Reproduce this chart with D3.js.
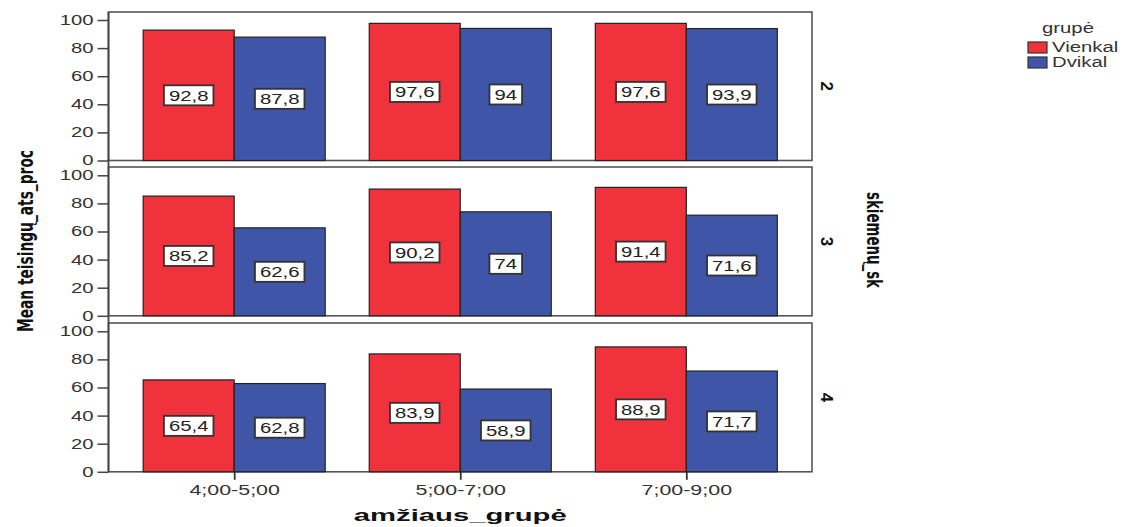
<!DOCTYPE html>
<html><head><meta charset="utf-8">
<script src="https://cdn.jsdelivr.net/npm/d3@7/dist/d3.min.js"></script>
<style>body{margin:0;background:#fff}</style>
</head><body>
<script>
const ageGroups = ["4;00-5;00", "5;00-7;00", "7;00-9;00"];
const groups = ["Vienkal", "Dvikal"];
const panels = ["2", "3", "4"];
const vienkal = [[92.8, 97.6, 97.6], [85.2, 90.2, 91.4], [65.4, 83.9, 88.9]];
const dvikal = [[87.8, 94, 93.9], [62.6, 74, 71.6], [62.8, 58.9, 71.7]];
const yTicks = [0, 20, 40, 60, 80, 100];
const labels = [["92,8","97,6","97,6"],["85,2","90,2","91,4"],["65,4","83,9","88,9"]];
const labelsD = [["87,8","94","93,9"],["62,6","74","71,6"],["62,8","58,9","71,7"]];
const colors = {Vienkal: "#ef323c", Dvikal: "#3f56a8"};

const W = 1129, H = 527;
const K = 1.45; // horizontal stretch of text
const svg = d3.select("body").append("svg").attr("width", W).attr("height", H)
  .style("font-family", "'Liberation Sans', Arial, sans-serif");

function stretch(sel, k) {
  sel.each(function() {
    const len = this.getComputedTextLength();
    d3.select(this).attr("textLength", len * k).attr("lengthAdjust", "spacingAndGlyphs");
  });
}

const left = 108.5, right = 812;
const panelTops = [12, 167, 323];
const zeroYs = [160.5, 315.8, 471.8];
const px100 = 140.5;

const x = d3.scalePoint().domain(ageGroups).range([left, right]).padding(0.556);
const barW = 91;
const xs = d3.scaleBand().domain(groups).range([-barW, barW]).padding(0);

panels.forEach((p, pi) => {
  const y = d3.scaleLinear().domain([0, 100]).range([zeroYs[pi], zeroYs[pi] - px100]);
  const g = svg.append("g");
  g.append("rect").attr("x", left).attr("y", panelTops[pi])
    .attr("width", right - left).attr("height", zeroYs[pi] - panelTops[pi])
    .attr("fill", "#fff").attr("stroke", "#555").attr("stroke-width", 1.6);
  const data = [];
  ageGroups.forEach((a, ai) => {
    data.push({a, grp: "Vienkal", v: vienkal[pi][ai], lab: labels[pi][ai]});
    data.push({a, grp: "Dvikal", v: dvikal[pi][ai], lab: labelsD[pi][ai]});
  });
  g.selectAll("rect.bar").data(data).join("rect").attr("class", "bar")
    .attr("x", d => x(d.a) + xs(d.grp))
    .attr("width", xs.bandwidth())
    .attr("y", d => y(d.v))
    .attr("height", d => y(0) - y(d.v))
    .attr("fill", d => colors[d.grp]).attr("stroke", "#222").attr("stroke-width", 1.2);
  const lg = g.selectAll("g.lab").data(data).join("g").attr("class", "lab")
    .attr("transform", d => `translate(${x(d.a) + xs(d.grp) + xs.bandwidth()/2},${(y(d.v) + y(0))/2})`);
  lg.append("text").attr("text-anchor", "middle").attr("dy", "0.38em")
    .attr("font-size", 14).attr("fill", "#222")
    .text(d => d.lab)
    .call(stretch, K)
    .each(function(d){
      const w = +d3.select(this).attr("textLength");
      d3.select(this.parentNode).insert("rect", "text")
        .attr("x", -w/2 - 5).attr("y", -10).attr("width", w + 10).attr("height", 20)
        .attr("fill", "#fff").attr("stroke", "#333").attr("stroke-width", 1.8);
    });
  const ax = d3.axisLeft(y).tickValues(yTicks).tickSize(11).tickPadding(4);
  const ag = g.append("g").attr("transform", `translate(${left},0)`).call(ax);
  ag.select(".domain").remove();
  ag.selectAll(".tick line").attr("stroke", "#444").attr("stroke-width", 1.5);
  ag.selectAll(".tick text").attr("font-size", 14)
    .attr("fill", "#333").attr("font-family", "'Liberation Sans', Arial, sans-serif")
    .call(stretch, K);
  g.append("text").attr("transform", `translate(${827},${(panelTops[pi] + zeroYs[pi]) / 2}) rotate(90)`)
    .attr("text-anchor", "middle").attr("dy", "0.35em").attr("font-size", 17).attr("font-weight", "bold")
    .attr("fill", "#111").text(p);
});

svg.append("line").attr("x1", left).attr("x2", left).attr("y1", panelTops[0]).attr("y2", zeroYs[2])
  .attr("stroke", "#444").attr("stroke-width", 1.8);

const xa = d3.axisBottom(x).tickSize(8).tickPadding(5);
const xg = svg.append("g").attr("transform", `translate(0,${zeroYs[2]})`).call(xa);
xg.select(".domain").remove();
xg.selectAll(".tick line").attr("stroke", "#333").attr("stroke-width", 1.8);
xg.selectAll(".tick text").attr("font-size", 14).attr("fill", "#333")
  .attr("font-family", "'Liberation Sans', Arial, sans-serif")
  .call(stretch, 1.53);

svg.append("text").attr("x", x(ageGroups[1])).attr("y", 521).attr("text-anchor", "middle")
  .attr("font-size", 17).attr("font-weight", "bold").attr("fill", "#111")
  .text("amžiaus_grupė").call(stretch, 1.72);
svg.append("text").attr("transform", "translate(33,241) rotate(-90)").attr("text-anchor", "middle")
  .attr("font-family", "'DejaVu Sans Condensed', 'Liberation Sans', sans-serif")
  .attr("font-size", 21).attr("font-weight", "bold").attr("fill", "#111")
  .attr("textLength", 182).attr("lengthAdjust", "spacingAndGlyphs")
  .text("Mean teisingų_ats_proc");
svg.append("text").attr("transform", "translate(867,240) rotate(90)").attr("text-anchor", "middle")
  .attr("font-family", "'DejaVu Sans Condensed', 'Liberation Sans', sans-serif")
  .attr("font-size", 21).attr("font-weight", "bold").attr("fill", "#111")
  .attr("textLength", 96).attr("lengthAdjust", "spacingAndGlyphs")
  .text("skiemenų_sk");

const leg = svg.append("g");
leg.append("text").attr("x", 1068).attr("y", 33).attr("text-anchor", "middle")
  .attr("font-size", 14).attr("fill", "#333").text("grupė").call(stretch, K);
groups.forEach((gname, i) => {
  leg.append("rect").attr("x", 1028).attr("y", 42 + i * 15).attr("width", 19).attr("height", 11)
    .attr("fill", colors[gname]).attr("stroke", "#333").attr("stroke-width", 1.2);
  leg.append("text").attr("x", 1052).attr("y", 52 + i * 15).attr("font-size", 14)
    .attr("fill", "#333").text(gname).call(stretch, K);
});
</script>
</body></html>
